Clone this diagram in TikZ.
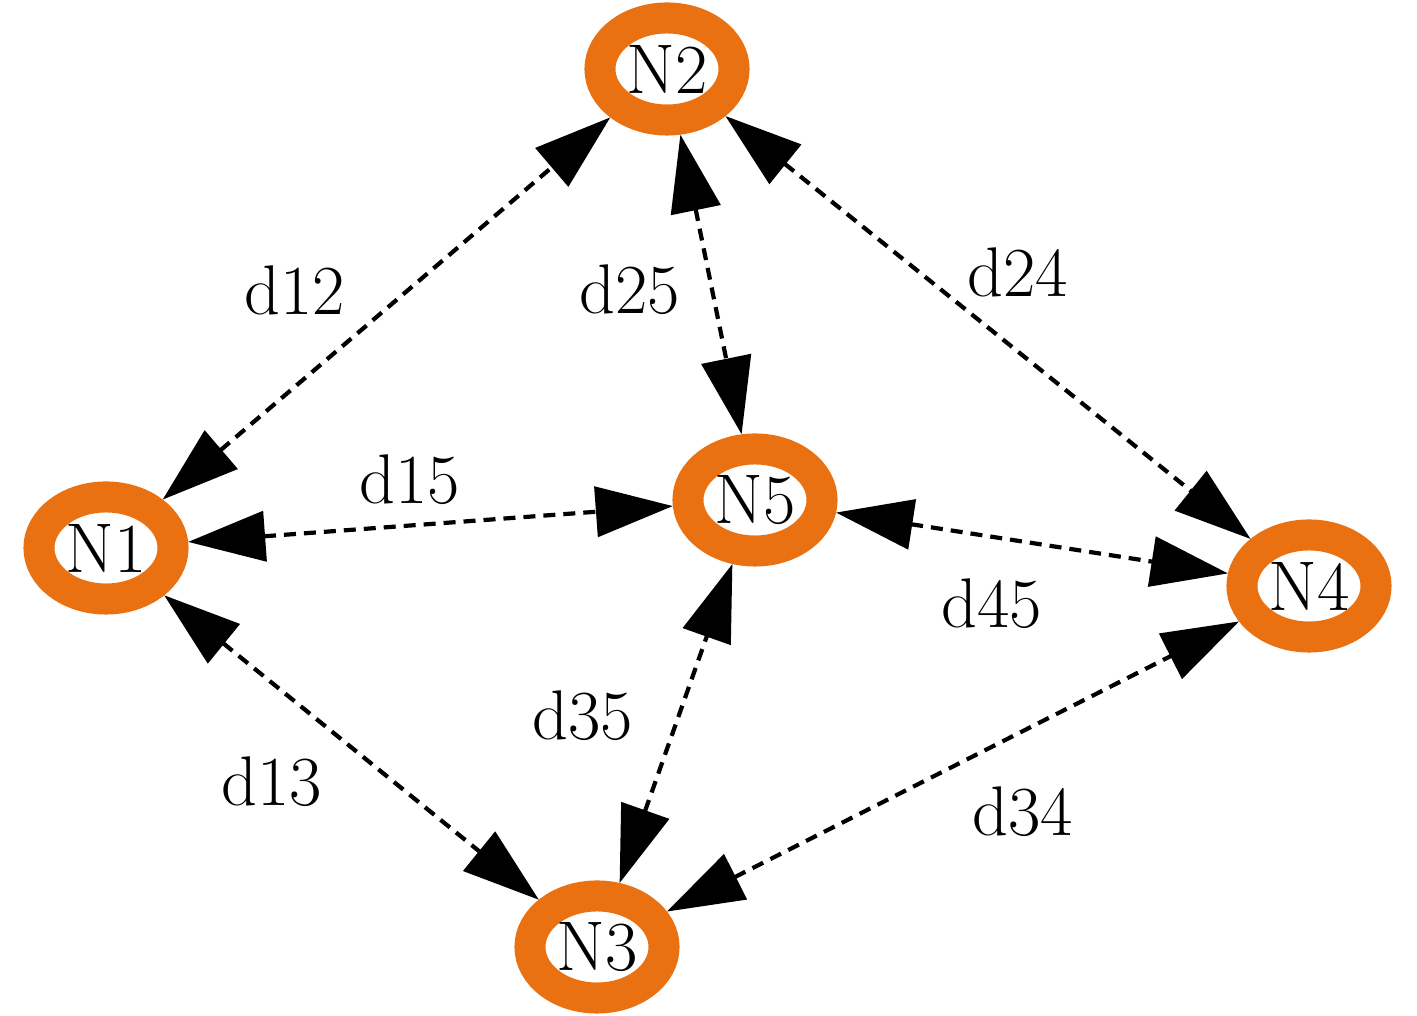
\documentclass[tikz,border=0pt]{standalone}
\usepackage{amsmath, amssymb, amsfonts}
\usetikzlibrary{arrows.meta, shapes.geometric}
\definecolor{ringorange}{RGB}{233,113,18}

\begin{document}
\begin{tikzpicture}[x=0.01cm, y=-0.01cm,
        station/.style={ellipse, draw=ringorange, line width=0.31cm, outer sep=0.155cm,
            minimum width=1.34cm, minimum height=1.02cm, inner sep=0pt,
            font=\fontsize{20}{24}\selectfont},
        link/.style={{Triangle[length=0.77cm, width=0.5cm]}-{Triangle[length=0.77cm, width=0.5cm]},
            line width=0.042cm, dash pattern=on 0.12cm off 0.08cm},
        lab/.style={font=\fontsize{20}{24}\selectfont}]
        \useasboundingbox (0, 0) rectangle (1417, 1016);
        \node[station] (N1) at (106, 548) {N1};
        \node[station] (N2) at (667, 69) {N2};
        \node[station] (N3) at (597, 947) {N3};
        \node[station] (N4) at (1309, 586) {N4};
        \node[station] (N5) at (755, 500) {N5};
        \draw[link] (N1) -- (N2);
        \draw[link] (N2) -- (N5);
        \draw[link] (N2) -- (N4);
        \draw[link] (N1) -- (N5);
        \draw[link] (N5) -- (N4);
        \draw[link] (N3) -- (N5);
        \draw[link] (N1) -- (N3);
        \draw[link] (N3) -- (N4);
        \node[lab] (d12) at (295, 290) {d12};
        \node[lab] (d25) at (630, 290) {d25};
        \node[lab] (d24) at (1018, 272) {d24};
        \node[lab] (d15) at (410, 480) {d15};
        \node[lab] (d45) at (992, 604) {d45};
        \node[lab] (d35) at (583, 716) {d35};
        \node[lab] (d13) at (272, 782) {d13};
        \node[lab] (d34) at (1023, 812) {d34};
    \end{tikzpicture}
\end{document}
